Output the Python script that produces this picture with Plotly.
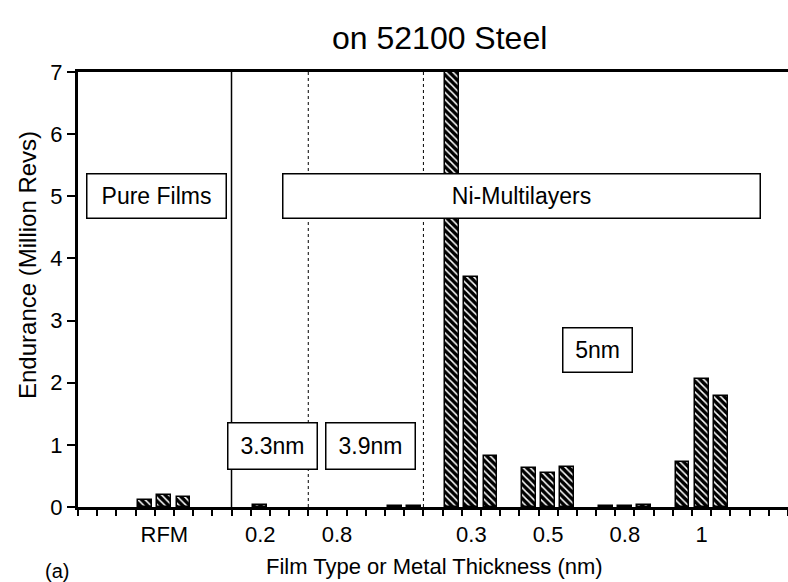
import plotly.graph_objects as go

# ---- data ----
group_labels = ["RFM", "0.2", "0.8", "", "0.3", "0.5", "0.8", "1"]
group_centers = [4.5, 9.5, 13.5, 16.5, 20.5, 24.5, 28.5, 32.5]
left_bar = [0.11, None, None, None, 7.6, 0.63, 0.02, 0.73]
mid_bar = [0.19, 0.03, None, 0.02, 3.7, 0.54, 0.02, 2.06]
right_bar = [0.16, None, None, 0.02, 0.82, 0.64, 0.03, 1.79]
section_lines = [8, 12, 18]
section_styles = ["solid", "dot", "dot"]
y_ticks = [0, 1, 2, 3, 4, 5, 6, 7]

FONT = "Liberation Sans, Arial, sans-serif"
W, H = 788, 582
L, R, T, B = 78, 0, 72, 75
PW, PH = W - L - R, H - T - B


def px_x(p):
    return (p - L) / PW


def px_y(p):
    return (H - B - p) / PH


xs, ys = [], []
for c, l, m, r in zip(group_centers, left_bar, mid_bar, right_bar):
    for off, v in zip((-1, 0, 1), (l, m, r)):
        if v is not None:
            xs.append(c + off)
            ys.append(v)

fig = go.Figure()
fig.add_trace(go.Bar(
    x=xs, y=ys, width=0.72,
    marker=dict(
        color="black",
        line=dict(color="black", width=1.5),
        pattern=dict(shape="\\", bgcolor="black", fgcolor="white",
                     size=5, solidity=0.3, fillmode="replace"),
    ),
    showlegend=False, hoverinfo="skip",
))

for xv, st in zip(section_lines, section_styles):
    fig.add_shape(type="line", xref="x", yref="paper", x0=xv, x1=xv, y0=0, y1=1,
                  line=dict(color="black", width=1.5 if st == "solid" else 1, dash=st),
                  layer="above")

boxes = [
    ("Pure Films", 4.11, 5.01, 138, 43),
    ("Ni-Multilayers", 23.1, 5.0, 476, 43),
    ("3.3nm", 10.16, 0.98, 88, 45),
    ("3.9nm", 15.26, 0.98, 88, 45),
    ("5nm", 27.08, 2.52, 68, 43),
]
for txt, bx, by, w, h in boxes:
    fig.add_annotation(x=bx, y=by, xref="x", yref="y", text=txt, showarrow=False,
                       font=dict(family=FONT, size=23, color="black"),
                       bgcolor="white", bordercolor="black", borderwidth=1.5,
                       borderpad=0, width=w, height=h, align="center", valign="middle")

# title, axis titles and panel letter
fig.add_annotation(x=px_x(439), y=px_y(38), xref="paper", yref="paper",
                   text="on 52100 Steel", showarrow=False,
                   xanchor="center", yanchor="middle",
                   font=dict(family=FONT, size=32, color="black"))
fig.add_annotation(x=px_x(434), y=px_y(566), xref="paper", yref="paper",
                   text="Film Type or Metal Thickness (nm)", showarrow=False,
                   xanchor="center", yanchor="middle",
                   font=dict(family=FONT, size=22, color="black"))
fig.add_annotation(x=px_x(27), y=px_y(265), xref="paper", yref="paper",
                   text="Endurance (Million Revs)", showarrow=False, textangle=-90,
                   xanchor="center", yanchor="middle",
                   font=dict(family=FONT, size=24, color="black"))
fig.add_annotation(x=px_x(57), y=px_y(571), xref="paper", yref="paper",
                   text="(a)", showarrow=False, xanchor="center", yanchor="middle",
                   font=dict(family=FONT, size=20, color="black"))

tick_vals = [c for c, t in zip(group_centers, group_labels) if t]
tick_text = [t for t in group_labels if t]

fig.update_layout(
    width=W, height=H,
    margin=dict(l=L, r=R, t=T, b=B, autoexpand=False),
    paper_bgcolor="white", plot_bgcolor="white",
    bargap=0,
    font=dict(family=FONT, color="black"),
)
fig.update_xaxes(
    range=[0, 37], showgrid=False, zeroline=False, automargin=False,
    showline=True, linecolor="black", linewidth=3, mirror=True,
    tickmode="array", tickvals=tick_vals, ticktext=tick_text,
    ticks="outside", ticklen=6, tickcolor="rgba(0,0,0,0)",
    tickfont=dict(family=FONT, size=22, color="black"),
    minor=dict(tickmode="linear", tick0=0, dtick=1, ticks="outside",
               ticklen=6, tickcolor="black", tickwidth=1.5, showgrid=False),
)
fig.update_yaxes(
    range=[0, 7], showgrid=False, zeroline=False, automargin=False,
    showline=True, linecolor="black", linewidth=3,
    tickmode="array", tickvals=y_ticks,
    ticks="outside", ticklen=8, tickcolor="black", tickwidth=1.5,
    tickfont=dict(family=FONT, size=22, color="black"),
)

fig.write_html(
    "out.html",
    config={"displayModeBar": False},
    post_script="document.body.style.margin='0';document.body.style.overflow='hidden';",
)
